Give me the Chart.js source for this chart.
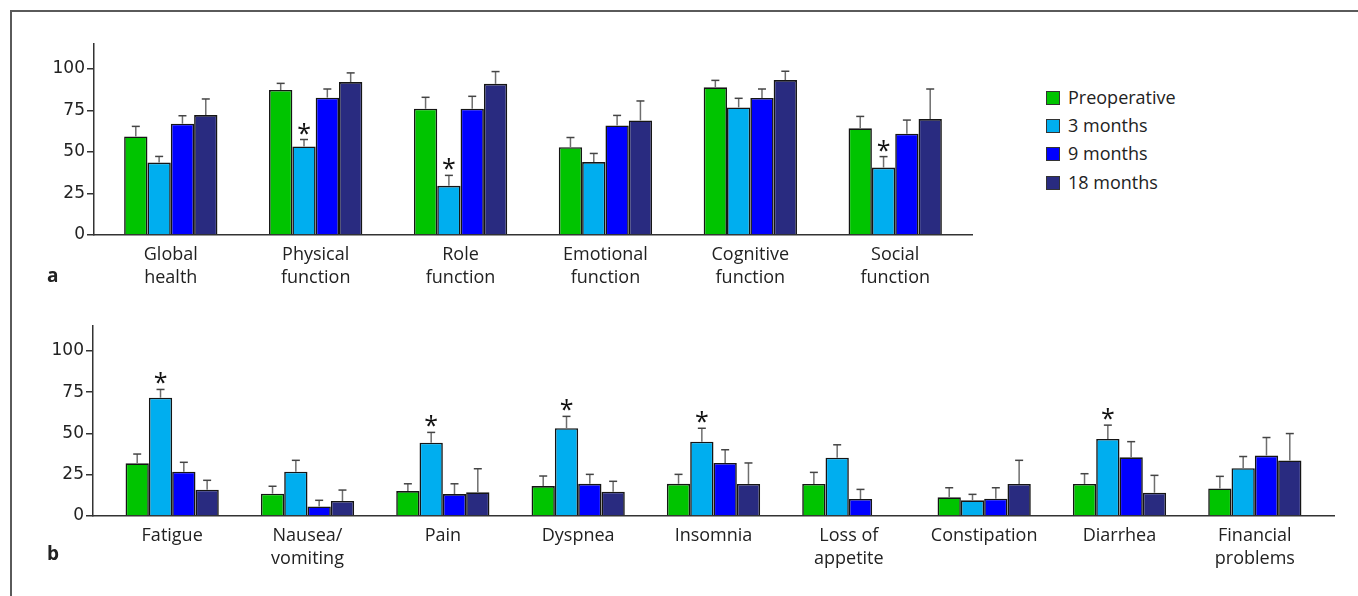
<!DOCTYPE html>
<html>
<head>
<meta charset="utf-8">
<script src="https://cdn.jsdelivr.net/npm/chart.js@4.4.1/dist/chart.umd.min.js"></script>
<style>
  body { margin: 0; background: #fff; width: 1358px; height: 596px; overflow: hidden; position: relative; font-family: "Open Sans", sans-serif; color: #222; }
  .frame { position: absolute; left: 10px; top: 10px; width: 1400px; height: 700px; border-top: 2px solid #5a5a5a; border-left: 2px solid #5a5a5a; }
  canvas { position: absolute; left: 0; }
  #chartA { top: 0; }
  #chartB { top: 290px; }
  .panel { position: absolute; left: 47px; font-weight: bold; font-size: 19px; }
  .legend { position: absolute; left: 1046px; top: 86px; font-size: 18px; }
  .legend div { height: 28.2px; line-height: 22px; white-space: nowrap; }
  .legend span { display: inline-block; width: 12px; height: 12px; border: 1px solid #333; margin-right: 8px; vertical-align: -1px; }
</style>
</head>
<body>
<div class="frame"></div>
<canvas id="chartA" width="1000" height="290"></canvas>
<canvas id="chartB" width="1358" height="306"></canvas>
<div class="panel" style="top:262px">a</div>
<div class="panel" style="top:540px">b</div>
<div class="legend" id="legend"></div>
<script>
// series names and colours
const seriesNames = ['Preoperative', '3 months', '9 months', '18 months'];
const seriesColors = ['#00c400', '#00aeef', '#0000ff', '#292b80'];

// panel a: functional scales
const funcLabels = [['Global', 'health'], ['Physical', 'function'], ['Role', 'function'],
  ['Emotional', 'function'], ['Cognitive', 'function'], ['Social', 'function']];
const funcPreop = [59.3, 87.3, 76.0, 52.9, 88.9, 64.2];
const func3m = [43.6, 53.3, 29.6, 43.9, 76.8, 40.6];
const func9m = [67.0, 82.7, 76.0, 66.0, 82.5, 61.0];
const func18m = [72.2, 92.1, 91.0, 69.0, 93.3, 69.8];
const funcPreopSd = [6.1, 4.0, 6.9, 5.8, 4.2, 7.2];
const func3mSd = [3.7, 4.2, 6.3, 5.2, 5.5, 6.6];
const func9mSd = [4.8, 5.2, 7.5, 6.0, 5.4, 8.2];
const func18mSd = [9.7, 5.5, 7.4, 11.7, 5.3, 18.1];
const funcStars = [[1, 1], [2, 1], [5, 1]]; // [category, series]

// panel b: symptom scales
const sympLabels = ['Fatigue', ['Nausea/', 'vomiting'], 'Pain', 'Dyspnea', 'Insomnia',
  ['Loss of', 'appetite'], 'Constipation', 'Diarrhea', ['Financial', 'problems']];
const sympPreop = [31.9, 13.5, 15.1, 18.1, 19.5, 19.4, 11.3, 19.4, 16.7];
const symp3m = [71.6, 26.8, 44.4, 53.1, 45.0, 35.3, 9.5, 46.6, 28.9];
const symp9m = [26.8, 5.8, 13.3, 19.5, 32.1, 10.3, 10.5, 35.5, 36.6];
const symp18m = [15.9, 9.1, 14.3, 14.7, 19.4, 0, 19.4, 14.1, 33.6];
const sympPreopSd = [5.6, 4.5, 4.4, 6.1, 5.7, 7.0, 5.8, 6.2, 7.3];
const symp3mSd = [5.0, 6.9, 6.2, 7.2, 8.1, 7.8, 3.6, 8.4, 7.1];
const symp9mSd = [5.7, 3.7, 6.2, 5.7, 8.0, 5.8, 6.6, 9.5, 10.9];
const symp18mSd = [5.7, 6.6, 14.3, 6.3, 12.7, 0, 14.3, 10.5, 16.3];
const sympStars = [[0, 1], [2, 1], [3, 1], [4, 1], [7, 1]];

const yTicks = [0, 25, 50, 75, 100];

// legend
document.getElementById('legend').innerHTML = seriesNames.map((n, i) =>
  '<div><span style="background:' + seriesColors[i] + '"></span>' + n + '</div>').join('');

// error bars (upper whisker only)
const errorBars = {
  id: 'errorBars',
  afterDatasetsDraw(chart) {
    const ctx = chart.ctx;
    const y = chart.scales.y;
    chart.data.datasets.forEach((ds, i) => {
      chart.getDatasetMeta(i).data.forEach((bar, j) => {
        const sd = ds.sd[j];
        if (!sd) return;
        const top = y.getPixelForValue(ds.data[j] + sd);
        ctx.save();
        ctx.strokeStyle = '#6e6e6e';
        ctx.lineWidth = 1.5;
        ctx.beginPath();
        ctx.moveTo(bar.x, bar.y);
        ctx.lineTo(bar.x, top);
        ctx.stroke();
        ctx.strokeStyle = '#444';
        ctx.beginPath();
        ctx.moveTo(bar.x - 4, top);
        ctx.lineTo(bar.x + 4, top);
        ctx.stroke();
        ctx.restore();
      });
    });
  }
};

// significance asterisks above whiskers
const stars = {
  id: 'stars',
  afterDatasetsDraw(chart, args, opts) {
    const ctx = chart.ctx;
    const y = chart.scales.y;
    opts.list.forEach(([c, s]) => {
      const ds = chart.data.datasets[s];
      const bar = chart.getDatasetMeta(s).data[c];
      const top = y.getPixelForValue(ds.data[c] + ds.sd[c]);
      ctx.save();
      ctx.fillStyle = '#111';
      ctx.font = '25px "Open Sans"';
      ctx.textAlign = 'center';
      ctx.textBaseline = 'alphabetic';
      ctx.fillText('*', bar.x, top + 2);
      ctx.restore();
    });
  }
};

function makeChart(id, labels, values, sds, starList, opt) {
  const datasets = values.map((v, i) => ({
    label: seriesNames[i],
    data: v,
    sd: sds[i],
    backgroundColor: seriesColors[i],
    borderColor: '#151515',
    borderWidth: 1.6,
    categoryPercentage: opt.groupPct,
    barPercentage: 1.0
  }));
  return new Chart(document.getElementById(id), {
    type: 'bar',
    data: { labels: labels, datasets: datasets },
    plugins: [errorBars, stars],
    options: {
      responsive: false,
      animation: false,
      layout: { padding: { top: opt.top, right: opt.right, left: 0, bottom: 0 } },
      plugins: {
        legend: { display: false },
        tooltip: { enabled: false },
        stars: { list: starList }
      },
      scales: {
        x: {
          grid: { display: false },
          border: { display: true, color: '#333', width: 1.5 },
          ticks: {
            color: '#222', font: { family: 'Open Sans', size: 18, lineHeight: 1.3 },
            padding: 0, autoSkip: false, maxRotation: 0
          },
          afterBuildTicks: (s) => { s._startValue -= opt.gap; s._valueRange += 2 * opt.gap; },
          afterFit: (s) => { s.height = opt.xHeight; }
        },
        y: {
          min: 0, max: 115,
          afterFit: (s) => { s.width = opt.yWidth; },
          afterBuildTicks: (s) => { s.ticks = yTicks.map(v => ({ value: v })); },
          grid: { drawOnChartArea: false, tickLength: 7, color: '#333', lineWidth: 1.5 },
          border: { color: '#333', width: 1.5 },
          ticks: { color: '#222', font: { family: 'DejaVu Sans', size: 17 }, padding: 2 }
        }
      }
    }
  });
}

makeChart('chartA', funcLabels, [funcPreop, func3m, func9m, func18m],
  [funcPreopSd, func3mSd, func9mSd, func18mSd], funcStars,
  { top: 44, right: 28, xHeight: 55, yWidth: 94, gap: 0.03, groupPct: 0.644 });

makeChart('chartB', sympLabels, [sympPreop, symp3m, symp9m, symp18m],
  [sympPreopSd, symp3mSd, symp9mSd, symp18mSd], sympStars,
  { top: 36, right: 24, xHeight: 80, yWidth: 93, gap: 0.085, groupPct: 0.689 });
</script>
</body>
</html>
